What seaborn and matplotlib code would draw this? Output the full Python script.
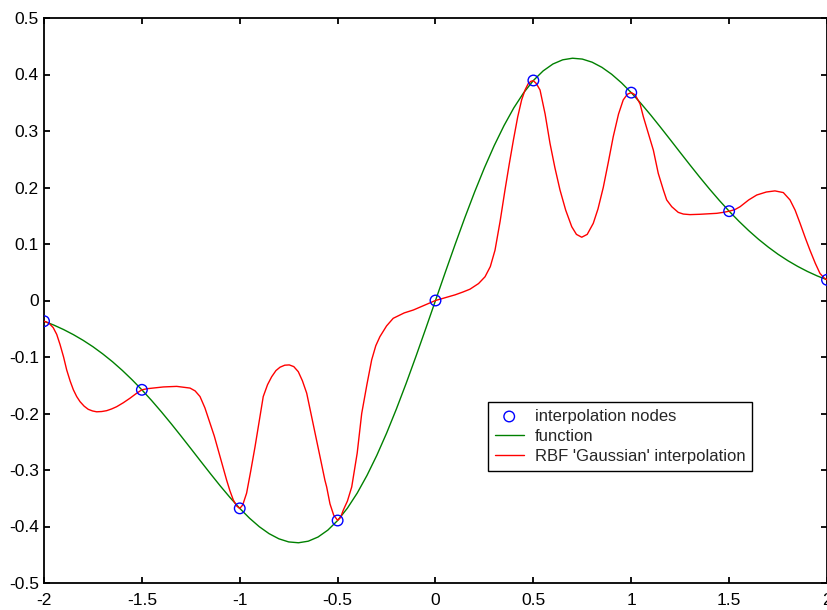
import numpy as np
import pandas as pd
import matplotlib
matplotlib.use("Agg")
import matplotlib.pyplot as plt
import seaborn as sns

# interpolation nodes
node_x = [-2.0, -1.5, -1.0, -0.5, 0.0, 0.5, 1.0, 1.5, 2.0]
node_y = [-0.0366, -0.1581, -0.3679, -0.3894, 0.0, 0.3894, 0.3679, 0.1581, 0.0366]

# function curve
func_x = [-2.0, -1.95, -1.9, -1.85, -1.8, -1.75, -1.7, -1.65, -1.6, -1.55, -1.5,
          -1.45, -1.4, -1.35, -1.3, -1.25, -1.2, -1.15, -1.1, -1.05, -1.0,
          -0.95, -0.9, -0.85, -0.8, -0.75, -0.7, -0.65, -0.6, -0.55, -0.5,
          -0.45, -0.4, -0.35, -0.3, -0.25, -0.2, -0.15, -0.1, -0.05, 0.0,
          0.05, 0.1, 0.15, 0.2, 0.25, 0.3, 0.35, 0.4, 0.45, 0.5,
          0.55, 0.6, 0.65, 0.7, 0.75, 0.8, 0.85, 0.9, 0.95, 1.0,
          1.05, 1.1, 1.15, 1.2, 1.25, 1.3, 1.35, 1.4, 1.45, 1.5,
          1.55, 1.6, 1.65, 1.7, 1.75, 1.8, 1.85, 1.9, 1.95, 2.0]
func_y = [-0.0366, -0.0435, -0.0514, -0.0604, -0.0705, -0.0818, -0.0945, -0.1084, -0.1237, -0.1403, -0.1581,
          -0.1771, -0.1972, -0.2182, -0.2399, -0.2620, -0.2843, -0.3064, -0.3280, -0.3486, -0.3679,
          -0.3853, -0.4004, -0.4127, -0.4218, -0.4273, -0.4288, -0.4260, -0.4186, -0.4064, -0.3894,
          -0.3675, -0.3409, -0.3096, -0.2742, -0.2349, -0.1922, -0.1467, -0.0990, -0.0499, 0.0,
          0.0499, 0.0990, 0.1467, 0.1922, 0.2349, 0.2742, 0.3096, 0.3409, 0.3675, 0.3894,
          0.4064, 0.4186, 0.4260, 0.4288, 0.4273, 0.4218, 0.4127, 0.4004, 0.3853, 0.3679,
          0.3486, 0.3280, 0.3064, 0.2843, 0.2620, 0.2399, 0.2182, 0.1972, 0.1771, 0.1581,
          0.1403, 0.1237, 0.1084, 0.0945, 0.0818, 0.0705, 0.0604, 0.0514, 0.0435, 0.0366]

# RBF 'Gaussian' interpolation curve
rbf_x = [-2.0, -1.975, -1.953, -1.935, -1.918, -1.900, -1.884, -1.866, -1.850, -1.833, -1.816,
         -1.795, -1.774, -1.752, -1.731, -1.705, -1.680, -1.655, -1.629, -1.595, -1.561, -1.53,
         -1.5, -1.47, -1.442, -1.39, -1.322, -1.254, -1.228, -1.203, -1.178, -1.152, -1.13,
         -1.110, -1.088, -1.067, -1.05, -1.033, -1.015, -1.0, -0.985, -0.965, -0.944, -0.922,
         -0.90, -0.880, -0.858, -0.837, -0.815, -0.794, -0.770, -0.747, -0.724, -0.701, -0.68,
         -0.658, -0.633, -0.607, -0.586, -0.565, -0.556, -0.539, -0.52, -0.5, -0.485, -0.471,
         -0.45, -0.428, -0.40, -0.377, -0.35, -0.326, -0.305, -0.284, -0.25, -0.216, -0.16,
         -0.113, -0.06, 0.0,
         0.06, 0.1, 0.14, 0.176, 0.22, 0.253, 0.28, 0.304, 0.33, 0.355, 0.377, 0.398, 0.42,
         0.44, 0.458, 0.474, 0.488, 0.5, 0.515, 0.534, 0.56, 0.585, 0.61, 0.636, 0.665, 0.696,
         0.72, 0.747, 0.775, 0.806, 0.83, 0.857, 0.883, 0.908, 0.935, 0.959, 0.98, 1.0, 1.02,
         1.045, 1.062, 1.087, 1.113, 1.138, 1.164, 1.181, 1.207, 1.240, 1.266, 1.30, 1.351,
         1.437, 1.47, 1.5, 1.53, 1.556, 1.6, 1.641, 1.69, 1.734, 1.777, 1.811, 1.837, 1.862,
         1.89, 1.913, 1.94, 1.964, 1.985, 2.0]
rbf_y = [-0.0366, -0.040, -0.048, -0.060, -0.078, -0.100, -0.123, -0.143, -0.158, -0.170, -0.179,
         -0.187, -0.1926, -0.1955, -0.197, -0.1965, -0.195, -0.192, -0.188, -0.181, -0.173, -0.165,
         -0.158, -0.156, -0.155, -0.153, -0.152, -0.155, -0.160, -0.170, -0.190, -0.217, -0.240,
         -0.265, -0.292, -0.318, -0.337, -0.353, -0.364, -0.368, -0.362, -0.341, -0.302, -0.259,
         -0.212, -0.170, -0.149, -0.135, -0.124, -0.118, -0.1145, -0.114, -0.117, -0.126, -0.142,
         -0.164, -0.205, -0.247, -0.283, -0.318, -0.330, -0.360, -0.380, -0.389, -0.384, -0.371,
         -0.355, -0.330, -0.270, -0.200, -0.148, -0.105, -0.080, -0.064, -0.045, -0.0315, -0.022,
         -0.0168, -0.009, 0.0,
         0.006, 0.010, 0.015, 0.020, 0.030, 0.042, 0.060, 0.089, 0.140, 0.1956, 0.242, 0.284, 0.325,
         0.355, 0.373, 0.384, 0.388, 0.389, 0.384, 0.3726, 0.330, 0.278, 0.235, 0.1956, 0.160, 0.1306,
         0.117, 0.112, 0.117, 0.1366, 0.162, 0.200, 0.245, 0.290, 0.330, 0.355, 0.365, 0.368, 0.364,
         0.348, 0.325, 0.296, 0.266, 0.225, 0.1956, 0.178, 0.166, 0.156, 0.153, 0.152, 0.1526,
         0.1543, 0.156, 0.158, 0.161, 0.166, 0.178, 0.1867, 0.192, 0.194, 0.191, 0.178, 0.160, 0.137,
         0.110, 0.089, 0.066, 0.048, 0.040, 0.0366]

x_ticks = [-2, -1.5, -1, -0.5, 0, 0.5, 1, 1.5, 2]
x_labels = ["-2", "-1.5", "-1", "-0.5", "0", "0.5", "1", "1.5", "2"]
y_ticks = [-0.5, -0.4, -0.3, -0.2, -0.1, 0, 0.1, 0.2, 0.3, 0.4, 0.5]
y_labels = ["-0.5", "-0.4", "-0.3", "-0.2", "-0.1", "0", "0.1", "0.2", "0.3", "0.4", "0.5"]

sns.set_style("ticks")
plt.rcParams["font.family"] = ["Liberation Sans", "DejaVu Sans"]

fig = plt.figure(figsize=(8.28, 6.10), dpi=100)
ax = fig.add_axes([44 / 828, 1 - 583 / 610, 783 / 828, 565 / 610])

nodes_df = pd.DataFrame({"x": node_x, "y": node_y})
func_df = pd.DataFrame({"x": func_x, "y": func_y})
rbf_df = pd.DataFrame({"x": rbf_x, "y": rbf_y})

sns.scatterplot(data=nodes_df, x="x", y="y", ax=ax, marker="o", s=58,
                facecolors="none", edgecolor="#0000ff", linewidth=1.0,
                label="interpolation nodes", zorder=4)
sns.lineplot(data=func_df, x="x", y="y", ax=ax, color="#008000", linewidth=1.0,
             sort=False, estimator=None, label="function", zorder=2)
sns.lineplot(data=rbf_df, x="x", y="y", ax=ax, color="#ff0000", linewidth=1.0,
             sort=False, estimator=None, label="RBF 'Gaussian' interpolation", zorder=3)

ax.set_xlim(-2, 2)
ax.set_ylim(-0.5, 0.5)
ax.set_xticks(x_ticks)
ax.set_xticklabels(x_labels)
ax.set_yticks(y_ticks)
ax.set_yticklabels(y_labels)
ax.set_xlabel("")
ax.set_ylabel("")

for sp in ax.spines.values():
    sp.set_visible(True)
    sp.set_color("black")
    sp.set_linewidth(1.3)
ax.tick_params(direction="in", length=4.5, width=1.3, top=True, right=True,
               labelsize=12.5, colors="black")
ax.tick_params(axis="x", pad=7)
ax.tick_params(axis="y", pad=3.6)

leg = ax.legend(loc="upper left", bbox_to_anchor=(0.567, 0.320), borderaxespad=0,
                frameon=True, fancybox=False, shadow=False, fontsize=12,
                labelspacing=0.3, handlelength=1.75, handletextpad=0.65,
                borderpad=0.4)
leg.get_frame().set_edgecolor("black")
leg.get_frame().set_linewidth(1.0)
leg.get_frame().set_alpha(1.0)

fig.savefig("out.png", dpi=100, facecolor="white")
